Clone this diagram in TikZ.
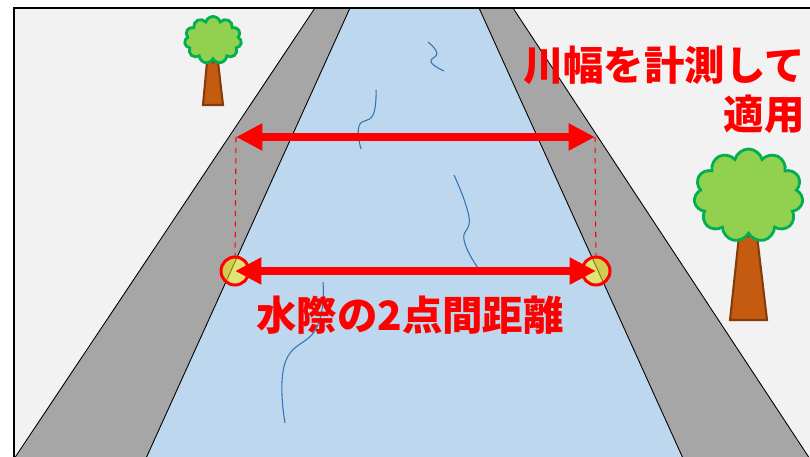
\documentclass[tikz,border=0pt]{standalone}
\usepackage{fontspec}
\newfontfamily\jpfont{Noto Sans CJK JP}
\usepackage{tikz}
\usetikzlibrary{arrows.meta, shapes.symbols}
\usepackage{tkz-euclide}

\definecolor{ground}{HTML}{F2F2F2}
\definecolor{bank}{HTML}{A6A6A6}
\definecolor{water}{HTML}{BDD7EE}
\definecolor{ripple}{HTML}{2E75B6}
\definecolor{leaf}{HTML}{92D050}
\definecolor{leafline}{HTML}{00B050}
\definecolor{bark}{HTML}{C55A11}
\definecolor{barkline}{HTML}{843C0C}

\begin{document}
\begin{tikzpicture}[x=0.02cm, y=-0.02cm,
    ripple line/.style={ripple, line width=0.6pt},
    crown/.style={cloud, cloud puffs=11, cloud ignores aspect, inner sep=0pt,
      fill=leaf, draw=leafline, line width=1.6pt},
    trunk/.style={fill=bark, draw=barkline, line width=1.2pt},
    width arrow/.style={red, line width=4pt,
      {Triangle[length=15pt,width=14.5pt]}-{Triangle[length=15pt,width=14.5pt]}},
    edge mark/.style={circle, minimum size=0.56cm, inner sep=0pt,
      fill=yellow, fill opacity=0.5, draw=red, line width=1.7pt},
    label text/.style={text=red, inner sep=0pt,
      font=\jpfont\bfseries\fontsize{23}{27.5}\selectfont}]
      \useasboundingbox (0,0) rectangle (810,456);

      % banks, extended past the frame and clipped
      \tkzDefPoint(320.3,0){A}
      \tkzDefPoint(353.6,0){B}
      \tkzDefPoint(475.4,0){C}
      \tkzDefPoint(507.7,0){D}
      \tkzDefPoint(6.6,470){E}
      \tkzDefPoint(140.7,470){F}
      \tkzDefPoint(688.3,470){G}
      \tkzDefPoint(817.2,470){H}

      \begin{scope}
      \clip (14,8) rectangle (830,470);
      \fill[ground] (14,8) rectangle (830,470);
      \tkzFillPolygon[color=water](B,C,G,F)
      \tkzFillPolygon[color=bank](A,B,F,E)
      \tkzFillPolygon[color=bank](C,D,H,G)
      \tkzDrawSegments[line width=0.5pt](A,E B,F C,G D,H)
      \end{scope}

      % ripples on the water
      \draw[ripple line] plot[smooth, tension=0.8] coordinates {(428,42) (437,53) (431,62) (444,71)};
      \draw[ripple line] plot[smooth, tension=0.8] coordinates {(376,90) (373,115) (359,126) (361,149)};
      \draw[ripple line] plot[smooth, tension=0.8] coordinates {(454,175) (469,217) (464,240) (478,268)};
      \draw[ripple line] plot[smooth, tension=0.8] coordinates {(323,282) (317,327) (285,363) (285,423)};

      % trees
      \draw[trunk] (207,62) -- (218,62) -- (223,105) -- (203,105) -- cycle;
      \node[crown, minimum width=1.14cm, minimum height=0.94cm] (treeA) at (213,40) {};
      \draw[trunk] (739,236) -- (757,236) -- (767,320) -- (730,320) -- cycle;
      \node[crown, minimum width=2.18cm, minimum height=1.86cm] (treeB) at (748.5,195.5) {};

      % frame
      \draw[line width=1.7pt] (14,470) -- (14,8) -- (830,8);

      % measured width and water edge points
      \tkzDefPoint(236,137){ul}
      \tkzDefPoint(595,137){ur}
      \node[edge mark] (wl) at (235,271) {};
      \node[edge mark] (wr) at (596,271) {};

      \draw[red, dashed, line width=0.6pt] (ul) -- (wl);
      \draw[red, dashed, line width=0.6pt] (ur) -- (wr);

      \draw[width arrow] (ul) -- (ur);
      \draw[width arrow] (wl.center) -- (wr.center);

      \node[label text, anchor=north east, align=right] (title) at (805,46) {川幅を計測して\\適用};
      \node[label text] (gap) at (410,315) {水際の2点間距離};

    \end{tikzpicture}
\end{document}
